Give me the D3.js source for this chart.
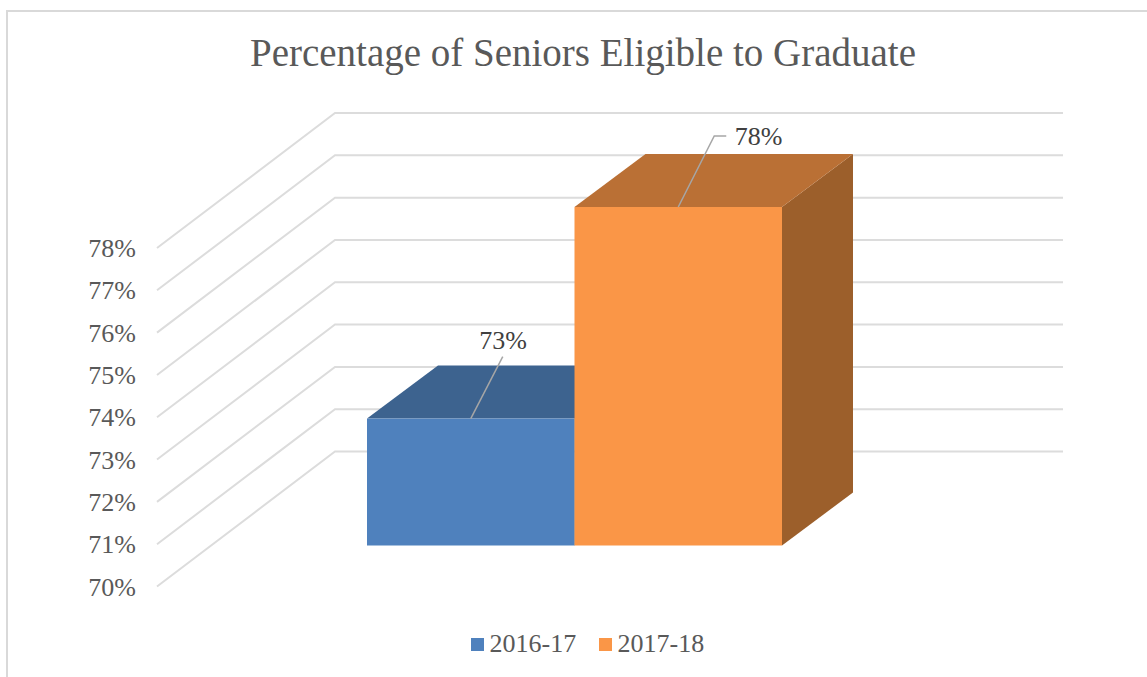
<!DOCTYPE html>
<html>
<head>
<meta charset="utf-8">
<script src="https://cdn.jsdelivr.net/npm/d3@7.9.0/dist/d3.min.js"></script>
<style>
  html, body { margin: 0; padding: 0; background: #fff; }
  svg { display: block; }
  text { font-family: "Liberation Serif", serif; fill: #595959; }
</style>
</head>
<body>
<svg id="chart" width="1147" height="677"></svg>
<script>
const title = 'Percentage of Seniors Eligible to Graduate';
const seriesNames = ['2016-17', '2017-18'];
const seriesValues = [73, 78];
const valueLabels = ['73%', '78%'];
const tickValues = [70, 71, 72, 73, 74, 75, 76, 77, 78];
const fillColors = ['#4f81bd', '#fa9647'];
const topColors = ['#3d638f', '#ba7035'];
const sideColors = ['#335478', '#9c5f2b'];

const svg = d3.select('#chart');

// front plane of the box, the walls sit behind it by (depthX, depthY)
const y = d3.scaleLinear().domain([70, 78]).range([545.5, 207]);
const x = d3.scaleBand().domain(seriesNames).range([367, 782]);
const depthX = 71;
const depthY = 53;

// chart frame: no right edge, and the bottom is cut off by the picture
svg.append('path')
  .attr('d', 'M7,677V11H1147')
  .attr('fill', 'none')
  .attr('stroke', '#d9d9d9')
  .attr('stroke-width', 2);

svg.append('text')
  .attr('x', 583)
  .attr('y', 66)
  .attr('text-anchor', 'middle')
  .attr('font-size', 39)
  .text(title);

// gridlines run along the side wall then the back wall
const gridLine = d3.line();
svg.append('g')
  .selectAll('path')
  .data(tickValues)
  .join('path')
  .attr('d', (d) => gridLine([
    [157, y(d) + 41],
    [335, y(d) - 94],
    [1063, y(d) - 94]
  ]))
  .attr('fill', 'none')
  .attr('stroke', '#dcdcdc')
  .attr('stroke-width', 2);

svg.append('g')
  .selectAll('text')
  .data(tickValues)
  .join('text')
  .attr('x', 136)
  .attr('y', (d) => y(d) + 50)
  .attr('text-anchor', 'end')
  .attr('font-size', 26)
  .text((d) => `${d}%`);

const bars = seriesNames.map((name, i) => ({
  name,
  value: seriesValues[i],
  fill: fillColors[i],
  top: topColors[i],
  side: sideColors[i]
}));

const bar = svg.append('g')
  .selectAll('g')
  .data(bars)
  .join('g');

// side
bar.append('path')
  .attr('fill', (d) => d.side)
  .attr('d', (d) => {
    const x1 = x(d.name) + x.bandwidth();
    return `M${x1},${y(70)}L${x1 + depthX},${y(70) - depthY}L${x1 + depthX},${y(d.value) - depthY}L${x1},${y(d.value)}Z`;
  });

// top
bar.append('path')
  .attr('fill', (d) => d.top)
  .attr('d', (d) => {
    const x0 = x(d.name);
    const x1 = x0 + x.bandwidth();
    const t = y(d.value);
    return `M${x0},${t}L${x0 + depthX},${t - depthY}L${x1 + depthX},${t - depthY}L${x1},${t}Z`;
  });

// front
bar.append('rect')
  .attr('x', (d) => x(d.name))
  .attr('y', (d) => y(d.value))
  .attr('width', x.bandwidth())
  .attr('height', (d) => y(70) - y(d.value))
  .attr('fill', (d) => d.fill);

// leader lines and data labels, offsets are from the middle of the bar's top edge
const leaderOffsets = [
  [[32, -62]],
  [[36, -71], [48, -71]]
];
const labelX = [503, 758.5];
const labelY = [349, 145];

svg.append('g')
  .selectAll('path')
  .data(bars)
  .join('path')
  .attr('d', (d, i) => {
    const cx = x(d.name) + x.bandwidth() / 2;
    const t = y(d.value);
    return gridLine([[cx, t], ...leaderOffsets[i].map(([dx, dy]) => [cx + dx, t + dy])]);
  })
  .attr('fill', 'none')
  .attr('stroke', '#a6a6a6')
  .attr('stroke-width', 1.5);

svg.append('g')
  .selectAll('text')
  .data(bars)
  .join('text')
  .attr('x', (d, i) => labelX[i])
  .attr('y', (d, i) => labelY[i])
  .attr('text-anchor', 'middle')
  .attr('font-size', 26)
  .style('fill', '#404040')
  .text((d, i) => valueLabels[i]);

// legend
const legendX = [471, 599];
const legend = svg.append('g')
  .selectAll('g')
  .data(bars)
  .join('g')
  .attr('transform', (d, i) => `translate(${legendX[i]},638)`);

legend.append('rect')
  .attr('width', 13)
  .attr('height', 13)
  .attr('fill', (d) => d.fill);

legend.append('text')
  .attr('x', 18.5)
  .attr('y', 13.5)
  .attr('font-size', 26)
  .text((d) => d.name);
</script>
</body>
</html>
